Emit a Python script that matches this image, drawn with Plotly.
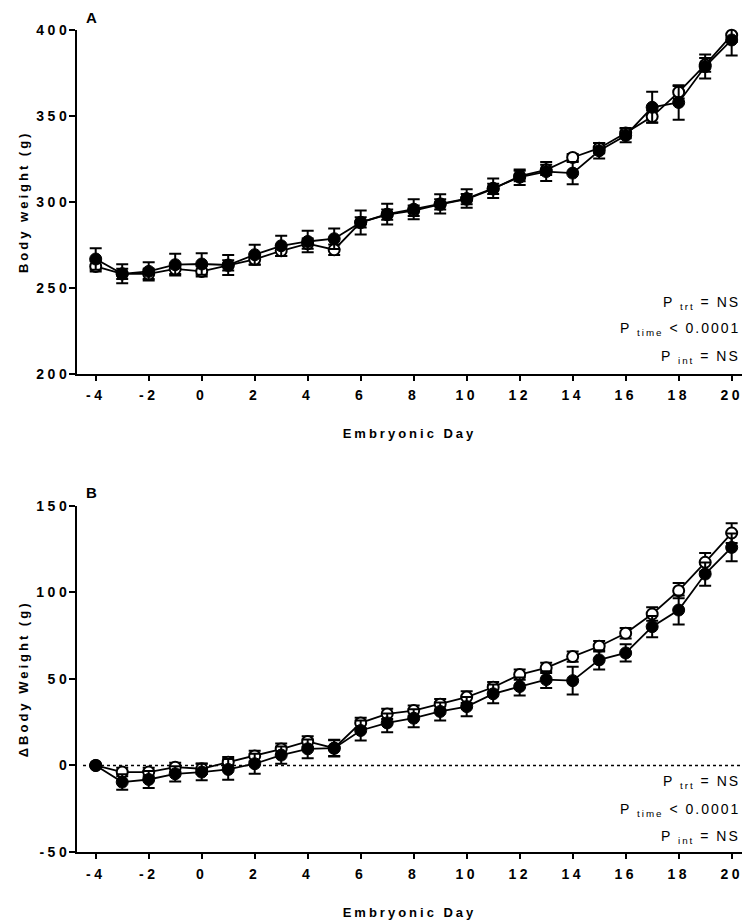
import plotly.graph_objects as go

# ---------------- data ----------------
days = [-4, -3, -2, -1, 0, 1, 2, 3, 4, 5, 6, 7, 8, 9, 10, 11, 12, 13, 14, 15, 16, 17, 18, 19, 20]
x_ticks = [-4, -2, 0, 2, 4, 6, 8, 10, 12, 14, 16, 18, 20]
x_tick_text = ["-4", "-2", "0", "2", "4", "6", "8", "10", "12", "14", "16", "18", "20"]

# Panel A: body weight (g)
bw_ticks = [200, 250, 300, 350, 400]
bw_open = [262.4, 258.0, 258.0, 260.9, 259.5, 263.0, 266.5, 271.5, 275.6, 272.1, 288.0, 292.5, 294.8,
           298.5, 301.5, 307.5, 315.0, 318.6, 325.8, 331.2, 340.0, 349.6, 363.8, 379.7, 397.0]
bw_open_err = [3, 3, 3, 3, 3, 3, 3, 3, 3, 3, 3, 3, 3, 3, 3, 3, 3, 3, 2, 3, 3, 3.5, 3.6, 4, 4]
bw_fill = [266.7, 258.1, 259.5, 263.4, 263.8, 263.2, 269.2, 274.4, 276.9, 278.5, 288.0, 292.8, 295.7,
           298.8, 301.9, 307.9, 314.3, 317.6, 316.7, 329.7, 338.6, 355.0, 357.8, 378.7, 394.2]
bw_fill_err = [6.3, 5.5, 5.3, 6.3, 6.2, 5.8, 5.8, 5.9, 6.3, 6.0, 7.0, 6.0, 5.8, 5.6, 5.4, 5.7, 4.5,
               5.5, 6.5, 4.5, 4.0, 9.0, 10.0, 7.0, 9.0]

# Panel B: delta body weight (g)
dbw_ticks = [-50, 0, 50, 100, 150]
dbw_tick_text = ["-50", "0", "50", "100", "150"]
dbw_open = [0, -3.8, -3.8, -1.0, -1.9, 1.9, 5.5, 9.5, 13.9, 10.0, 24.6, 29.8, 31.7, 35.4, 39.5, 45.2,
            52.5, 56.4, 62.9, 68.9, 76.4, 87.5, 101.0, 117.4, 134.3]
dbw_open_err = [0, 2.5, 2.5, 2.5, 3, 3, 3, 3.2, 3, 4.8, 3, 3, 3, 3, 3.4, 3, 3, 3, 3, 3, 3, 3.9, 4.4, 5.3, 5.7]
dbw_fill = [0, -9.6, -8.1, -4.8, -3.8, -2.3, 1.0, 6.0, 9.6, 10.0, 20.2, 24.6, 27.3, 31.2, 34.0, 41.4,
            45.6, 49.6, 49.0, 61.0, 65.0, 80.2, 89.8, 110.6, 126.0]
dbw_fill_err = [0, 4.5, 4.9, 4.4, 4.8, 6.0, 5.8, 5.0, 5.4, 4.5, 5.8, 5.4, 5.2, 5.2, 5.5, 5.4, 5.2, 4.9,
                8.0, 5.6, 5.0, 6.1, 8.4, 6.7, 8.0]

zero_line_y = 0
stats_lines = ["P <sub>trt</sub> = NS", "P <sub>time</sub> < 0.0001", "P <sub>int</sub> = NS"]

# ---------------- figure ----------------
FONT = "Liberation Sans, Arial, sans-serif"
fig = go.Figure()


def add_pair(xa, ya, y_open, e_open, y_fill, e_fill):
    fig.add_trace(go.Scatter(
        x=days, y=y_open, xaxis=xa, yaxis=ya, mode="lines+markers",
        line=dict(color="black", width=1.8),
        marker=dict(symbol="circle", size=11, color="white", line=dict(color="black", width=2)),
        error_y=dict(type="data", array=e_open, visible=True, color="black", thickness=2, width=6),
        showlegend=False, cliponaxis=False))
    fig.add_trace(go.Scatter(
        x=days, y=y_fill, xaxis=xa, yaxis=ya, mode="lines+markers",
        line=dict(color="black", width=1.8),
        marker=dict(symbol="circle", size=12, color="black", line=dict(color="black", width=1)),
        error_y=dict(type="data", array=e_fill, visible=True, color="black", thickness=2, width=6),
        showlegend=False, cliponaxis=False))


add_pair("x", "y", bw_open, bw_open_err, bw_fill, bw_fill_err)
add_pair("x2", "y2", dbw_open, dbw_open_err, dbw_fill, dbw_fill_err)

xrange_ = [-4.706, 20.39]

fig.add_shape(type="line", xref="x2", yref="y2", x0=-4.48, x1=xrange_[1], y0=zero_line_y, y1=zero_line_y,
              line=dict(color="black", width=1.5, dash="dot"), layer="below")

tickfont = dict(family=FONT, size=14, color="black", weight="bold")
titlefont = dict(family=FONT, size=13, color="black", weight="bold")

common_x = dict(range=xrange_, tickmode="array", tickvals=x_ticks, ticktext=x_tick_text, ticks="outside",
                ticklen=5, tickwidth=2, tickcolor="black", showline=True, linewidth=2, linecolor="black",
                showgrid=False, zeroline=False, tickfont=tickfont, ticklabelstandoff=3)
common_y = dict(ticks="outside", ticklen=6, tickwidth=2, tickcolor="black", showline=True, linewidth=2,
                linecolor="black", showgrid=False, zeroline=False, tickfont=tickfont, tickmode="array",
                ticklabelstandoff=-4)

fig.update_layout(
    width=745, height=921,
    margin=dict(l=77, r=3, t=30, b=65),
    plot_bgcolor="white", paper_bgcolor="white",
    font=dict(family=FONT, color="black"),
    xaxis=dict(domain=[0, 1], anchor="y", title=dict(text="Embryonic Day", font=titlefont, standoff=27), **common_x),
    yaxis=dict(domain=[0.5820, 1], anchor="x", range=[200, 400], tickvals=bw_ticks,
               title=dict(text="Body weight (g)", font=titlefont), **common_y),
    xaxis2=dict(domain=[0, 1], anchor="y2", title=dict(text="Embryonic Day", font=titlefont, standoff=27), **common_x),
    yaxis2=dict(domain=[0, 0.4211], anchor="x2", range=[-50, 150], tickvals=dbw_ticks, ticktext=dbw_tick_text,
                title=dict(text="ΔBody Weight (g)", font=titlefont), **common_y),
)

annfont = dict(family=FONT, size=14, color="black")
for ys, lines in (([0.6676, 0.6362, 0.6024], stats_lines), ([0.0847, 0.0515, 0.0182], stats_lines)):
    for yv, txt in zip(ys, lines):
        fig.add_annotation(text=txt, xref="paper", yref="paper", x=1.0, y=yv, xanchor="right",
                           yanchor="middle", align="right", showarrow=False, font=annfont)

for lbl, yv in (("A", 1.0146), ("B", 0.4374)):
    fig.add_annotation(text=lbl, xref="paper", yref="paper", x=0.0226, y=yv, xanchor="center",
                       yanchor="middle", showarrow=False,
                       font=dict(family=FONT, size=15, color="black", weight="bold"))

post = """
var s = document.createElement('style');
s.textContent = 'html, body {margin: 0; padding: 0;}' +
  ' .xtick text, .x2tick text, .ytick text, .y2tick text {letter-spacing: 3.5px;}' +
  ' .xtitle, .x2title, .ytitle, .y2title {letter-spacing: 3px;}' +
  ' .annotation-text {letter-spacing: 2px;}';
document.head.appendChild(s);
"""

fig.write_html("out.html", post_script=post, config={"displayModeBar": False})
